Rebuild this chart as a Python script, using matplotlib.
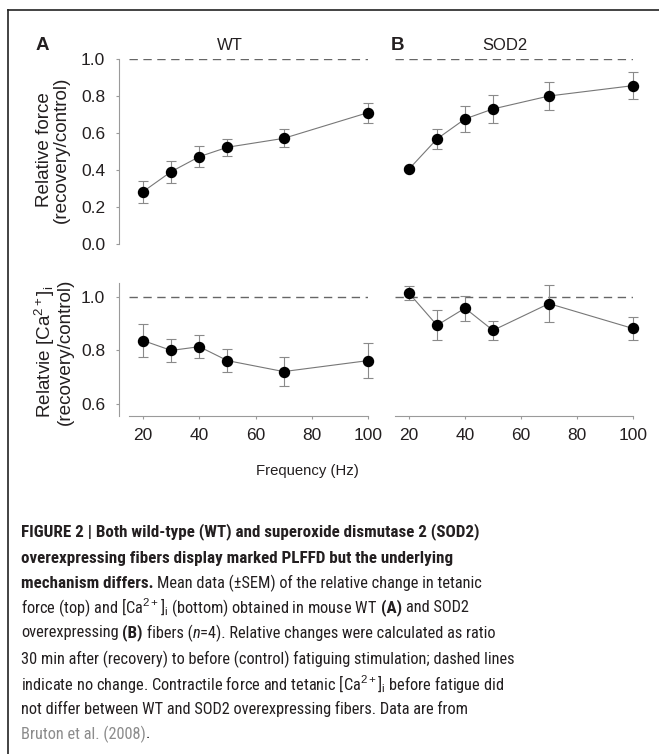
import matplotlib
matplotlib.use("Agg")
import matplotlib.pyplot as plt
from matplotlib import font_manager
from matplotlib.font_manager import FontProperties
from matplotlib.lines import Line2D

W, H = 659, 754

plt.rcParams["font.family"] = ["Liberation Sans", "DejaVu Sans"]
plt.rcParams["mathtext.fontset"] = "custom"
plt.rcParams["mathtext.rm"] = "Liberation Sans"
plt.rcParams["mathtext.it"] = "Liberation Sans:italic"
plt.rcParams["mathtext.bf"] = "Liberation Sans:bold"

# ---- data ----
freq = [20, 30, 40, 50, 70, 100]

wt_force = [0.283, 0.391, 0.472, 0.523, 0.571, 0.710]
wt_force_err = [0.060, 0.060, 0.058, 0.047, 0.048, 0.054]
sod_force = [0.405, 0.568, 0.676, 0.730, 0.800, 0.856]
sod_force_err = [0.010, 0.055, 0.072, 0.077, 0.078, 0.072]

wt_ca = [0.837, 0.800, 0.814, 0.762, 0.721, 0.762]
wt_ca_err = [0.060, 0.043, 0.042, 0.043, 0.053, 0.065]
sod_ca = [1.014, 0.894, 0.958, 0.875, 0.975, 0.882]
sod_ca_err = [0.026, 0.056, 0.047, 0.036, 0.070, 0.042]

xticks = [20, 40, 60, 80, 100]
force_ticks = [0.0, 0.2, 0.4, 0.6, 0.8, 1.0]
ca_ticks = [0.6, 0.8, 1.0]

SPINE = "#9a9a9a"
TXT = "#231f20"


def find_narrow():
    """Look for a condensed sans family; fall back to Liberation Sans."""
    files = [f.fname for f in font_manager.fontManager.ttflist]
    for key in ["LiberationSansNarrow", "RobotoCondensed", "DejaVuSansCondensed",
                "OpenSans_Condensed", "OpenSansCondensed", "NotoSans-Condensed"]:
        hits = [p for p in files if key.lower() in p.lower().replace(" ", "")]
        if not hits:
            continue
        def pick(words, avoid=()):
            for p in hits:
                base = p.lower().rsplit("/", 1)[-1]
                if all(w in base for w in words) and not any(a in base for a in avoid):
                    return p
            return None
        reg = pick([], ["bold", "italic", "oblique", "light", "medium", "semi", "black", "thin", "extra"])
        bold = pick(["bold"], ["italic", "oblique", "semi", "extra"])
        ital = pick(["italic"], ["bold", "light", "medium", "semi", "black", "thin", "extra"]) or \
            pick(["oblique"], ["bold"])
        if reg and bold:
            return (FontProperties(fname=reg), FontProperties(fname=bold),
                    FontProperties(fname=ital) if ital else FontProperties(family="Liberation Sans", style="italic"))
    return (FontProperties(family="Liberation Sans"),
            FontProperties(family="Liberation Sans", weight="bold"),
            FontProperties(family="Liberation Sans", style="italic"))


def px_box(x0, y_top, x1, y_bot):
    return [x0 / W, 1 - y_bot / H, (x1 - x0) / W, (y_bot - y_top) / H]


fig = plt.figure(figsize=(W / 100, H / 100), dpi=100, facecolor="white")


def panel(rect, y, err, ylim, yticks, show_y, show_x):
    ax = fig.add_axes(rect)
    ax.set_facecolor("none")
    ax.axhline(1.0, color="#666666", lw=1.0, dashes=(6, 4), zorder=1)
    ax.errorbar(freq, y, yerr=err, fmt="none", ecolor="#8a8a8a", elinewidth=0.8,
                capsize=3.5, capthick=0.8, zorder=2, clip_on=False)
    ax.plot(freq, y, color="#777777", lw=0.8, marker="o", ms=7.2,
            mfc="black", mec="black", zorder=3, clip_on=False)
    ax.set_xlim(15, 100)
    ax.set_ylim(*ylim)
    for s in ["top", "right"]:
        ax.spines[s].set_visible(False)
    ax.spines["left"].set_position(("outward", 7.2))
    ax.spines["left"].set_color(SPINE)
    ax.spines["bottom"].set_color(SPINE)
    ax.spines["left"].set_visible(show_y)
    ax.spines["bottom"].set_visible(show_x)
    if show_y:
        ax.set_yticks(yticks)
        ax.set_yticklabels([f"{t:.1f}" for t in yticks])
        ax.tick_params(axis="y", colors=SPINE, labelcolor=TXT, labelsize=12.5,
                       length=2.5, width=0.8, direction="out", pad=7.5)
    else:
        ax.set_yticks([])
    if show_x:
        ax.set_xticks(xticks)
        ax.tick_params(axis="x", colors=SPINE, labelcolor=TXT, labelsize=12.5,
                       length=2.5, width=0.8, direction="out", pad=6.5)
    else:
        ax.set_xticks([])
    return ax


panel(px_box(129, 59, 368, 244), wt_force, wt_force_err, (0, 1.0), force_ticks, True, False)
panel(px_box(395, 59, 633, 244), sod_force, sod_force_err, (0, 1.0), force_ticks, False, False)
panel(px_box(129, 283, 368, 416), wt_ca, wt_ca_err, (0.555, 1.052), ca_ticks, True, True)
panel(px_box(395, 283, 633, 416), sod_ca, sod_ca_err, (0.555, 1.052), ca_ticks, False, True)


def ftext(x, y, s, **kw):
    return fig.text(x / W, 1 - y / H, s, **kw)


# panel headers
ftext(36, 46, "A", fontsize=13.5, fontweight="bold", color=TXT, va="center")
ftext(230, 46, "WT", fontsize=12, color=TXT, ha="center", va="center")
ftext(391, 46, "B", fontsize=13.5, fontweight="bold", color=TXT, va="center")
ftext(505, 46, "SOD2", fontsize=12, color=TXT, ha="center", va="center")

# y labels
ftext(53, 150, "Relative force\n(recovery/control)", fontsize=13.6, color=TXT,
      rotation=90, ha="center", va="center", linespacing=1.0)
ftext(53, 352, "Relatvie [Ca$^{2+}$]$_\\mathrm{i}$\n(recovery/control)", fontsize=13.6,
      color=TXT, rotation=90, ha="center", va="center", linespacing=1.0)

ftext(307, 471, "Frequency (Hz)", fontsize=10.7, color=TXT, ha="center", va="center")

# frame (top and left only)
fig.add_artist(Line2D([8 / W, 1], [1 - 10 / H, 1 - 10 / H], color="#222222", lw=1.2))
fig.add_artist(Line2D([8 / W, 8 / W], [1 - 10 / H, 0], color="#222222", lw=1.2))

# caption
fig.canvas.draw()
renderer = fig.canvas.get_renderer()
GRAY = "#8c8c8c"
fp_reg, fp_bold, fp_ital = find_narrow()
FPS = {"r": fp_reg, "b": fp_bold, "i": fp_ital}


def width_of(t):
    return t.get_window_extent(renderer).width


def fitted_size(fp, text, target):
    probe = fig.text(0, 0, text, fontproperties=fp.copy())
    probe.set_fontsize(10)
    size = 10 * target / width_of(probe)
    probe.remove()
    return size


# fit caption sizes so the long lines span the reference widths
ref_line = "30 min after (recovery) to before (control) fatiguing stimulation; dashed lines"
bold_line = "FIGURE 2 | Both wild-type (WT) and superoxide dismutase 2 (SOD2)"
CAP_FS = min(13.0, fitted_size(fp_reg, ref_line, 492))
BOLD_FS = min(13.0, max(CAP_FS, 0.5 * (CAP_FS + fitted_size(fp_bold, bold_line, 476))))
SIZES = {"r": CAP_FS, "b": BOLD_FS, "i": CAP_FS}

p1 = fig.text(0, 0, "x x", fontproperties=fp_reg.copy())
p2 = fig.text(0, 0, "xx", fontproperties=fp_reg.copy())
p1.set_fontsize(CAP_FS)
p2.set_fontsize(CAP_FS)
SPACE = width_of(p1) - width_of(p2)
p1.remove()
p2.remove()

caption = [
    [(bold_line, "b", TXT)],
    [("overexpressing fibers display marked PLFFD but the underlying", "b", TXT)],
    [("mechanism differs.", "b", TXT),
     ("Mean data (\u00b1SEM) of the relative change in tetanic", "r", TXT)],
    [("force (top) and [Ca$^{2+}$]$_\\mathrm{i}$ (bottom) obtained in mouse WT", "r", TXT),
     ("(A)", "b", TXT), ("and SOD2", "r", TXT)],
    [("overexpressing", "r", TXT), ("(B)", "b", TXT),
     ("fibers (", "r", TXT), ("n", "i", TXT, 0),
     ("=4). Relative changes were calculated as ratio", "r", TXT, 0)],
    [(ref_line, "r", TXT)],
    [("indicate no change. Contractile force and tetanic [Ca$^{2+}$]$_\\mathrm{i}$ before fatigue did", "r", TXT)],
    [("not differ between WT and SOD2 overexpressing fibers. Data are from", "r", TXT)],
    [("Bruton et al. (2008)", "r", GRAY), (".", "r", TXT, 0)],
]
line_y = [532, 558, 583, 608, 633, 659, 684, 709, 734]

for runs, yy in zip(caption, line_y):
    x = 21.0
    for i, run in enumerate(runs):
        s, kind, col = run[:3]
        gap = run[3] if len(run) > 3 else 1
        if i > 0 and gap:
            x += SPACE
        fp = FPS[kind].copy()
        fp.set_size(SIZES[kind])
        t = ftext(x, yy, s, fontproperties=fp, color=col, va="center")
        x += width_of(t)

fig.savefig("out.png", dpi=100, facecolor="white")
